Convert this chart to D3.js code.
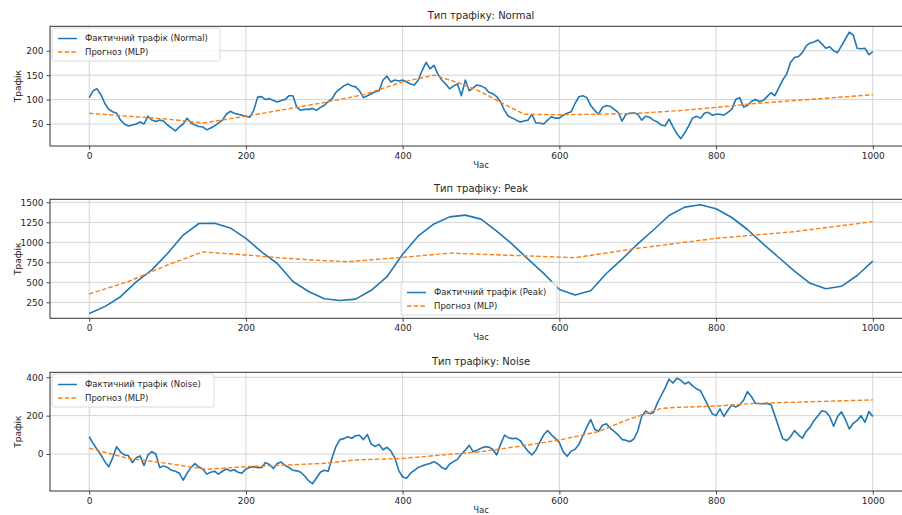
<!DOCTYPE html>
<html><head><meta charset="utf-8">
<script src="https://cdn.jsdelivr.net/npm/d3@7"></script>
<style>
html,body{margin:0;padding:0;background:#fff;}
svg{display:block;font-family:"DejaVu Sans",sans-serif;}
</style></head>
<body><svg id="chart" width="902" height="515"></svg>
<script>
// ---------- DATA ----------
const xTicks = [0, 200, 400, 600, 800, 1000];
const normalTicks = [50, 100, 150, 200];
const peakTicks = [250, 500, 750, 1000, 1250, 1500];
const noiseTicks = [0, 200, 400];

const titles = ["Тип трафіку: Normal", "Тип трафіку: Peak", "Тип трафіку: Noise"];
const actualLabels = ["Фактичний трафік (Normal)", "Фактичний трафік (Peak)", "Фактичний трафік (Noise)"];
const forecastLabel = "Прогноз (MLP)";
const xLabel = "Час";
const yLabel = "Трафік";

// Normal: actual sampled every 5 time units (0..1000)
const normalStep = 5;
const normalActual = [104,118,122,110,92,80,75,72,58,50,46,48,50,54,50,66,58,55,58,56,
48,42,36,44,50,62,52,48,45,44,38,42,46,52,58,70,76,72,70,68,
66,64,78,105,106,100,102,98,95,98,100,108,108,84,78,80,80,82,78,84,
88,96,102,115,122,128,132,128,126,118,104,108,112,116,118,140,148,136,140,138,
140,136,132,130,140,160,176,163,170,152,140,132,122,128,132,108,140,118,124,130,
128,124,115,112,106,95,78,66,62,58,54,56,58,70,52,52,50,58,65,62,
62,68,72,75,92,106,108,104,88,78,70,84,88,86,80,74,56,70,72,73,
70,58,66,64,58,54,48,46,60,44,30,20,32,46,62,66,62,72,74,68,
70,70,68,74,80,100,104,85,88,96,100,96,98,106,114,108,124,140,152,176,
186,188,196,210,216,218,222,214,205,208,200,196,210,224,238,232,205,204,205,192,198];
const normalForecastX = [0,50,100,145,200,250,300,350,400,440,470,500,530,555,600,650,700,750,800,850,900,950,1000];
const normalForecast  = [72,66,60,52,66,80,94,110,136,150,135,116,90,70,69,70,72,77,84,92,98,104,110];

// Peak: actual sampled every 20 time units
const peakStep = 20;
const peakActual = [110,196,320,505,655,860,1090,1235,1238,1180,1050,880,735,510,385,295,272,290,400,570,
850,1080,1230,1318,1340,1290,1140,975,790,612,410,340,395,610,790,980,1154,1335,1440,1470,
1420,1310,1160,980,810,640,487,420,450,585,765];
const peakForecastX = [0,50,100,145,200,250,300,330,400,460,500,560,620,700,800,900,1000];
const peakForecast  = [354,510,717,880,842,800,771,758,812,865,850,830,808,925,1050,1133,1258];

// Noise: actual sampled every 5 time units
const noiseStep = 5;
const noiseActual = [90,55,25,-5,-40,-66,-20,38,10,-5,-8,-45,-20,-10,-60,-5,12,0,-70,-62,
-70,-85,-90,-100,-136,-100,-70,-50,-68,-78,-105,-95,-90,-105,-90,-78,-88,-82,-95,-100,
-78,-70,-66,-72,-70,-45,-55,-75,-50,-42,-60,-70,-85,-88,-95,-115,-140,-155,-125,-95,
-85,-90,-20,40,75,80,90,82,95,98,75,102,50,40,50,22,35,15,-20,-85,
-120,-127,-100,-85,-70,-62,-55,-50,-40,-52,-70,-80,-52,-40,-28,0,20,45,12,20,
30,38,36,25,-5,50,98,85,80,82,70,40,15,-5,20,60,100,122,100,80,
60,10,-12,15,25,50,95,140,180,130,118,150,158,135,118,100,75,72,64,78,
120,195,225,210,215,265,305,345,390,370,395,385,365,375,355,340,330,290,250,210,
200,235,196,228,255,245,255,280,325,300,265,262,262,264,258,200,140,80,70,90,
122,100,82,118,140,175,200,225,220,195,145,195,220,180,130,160,175,200,165,222,195];
const noiseForecastX = [0,50,100,150,200,300,340,400,500,560,600,650,686,730,750,800,850,900,1000];
const noiseForecast  = [30,-23,-49,-80,-66,-49,-31,-23,12,47,73,117,177,238,243,250,264,270,282];

// ---------- LAYOUT ----------
const svg = d3.select("#chart");
const xRange = [50, 912];
const blue = "#1f77b4", orange = "#ff7f0e";
const panels = [
  {top: 26.3, bottom: 146, domain: [5, 250], ticks: normalTicks,
   actual: normalActual.map((v,i)=>[i*normalStep, v]),
   fc: normalForecastX.map((x,i)=>[x, normalForecast[i]]),
   legend: {x: 52, y: 28, w: 168}},
  {top: 199.3, bottom: 318.3, domain: [50, 1537.5], ticks: peakTicks,
   actual: peakActual.map((v,i)=>[i*peakStep, v]),
   fc: peakForecastX.map((x,i)=>[x, peakForecast[i]]),
   legend: {x: 401, y: 282, w: 156}},
  {top: 372.3, bottom: 491, domain: [-193, 426], ticks: noiseTicks,
   actual: noiseActual.map((v,i)=>[i*noiseStep, v]),
   fc: noiseForecastX.map((x,i)=>[x, noiseForecast[i]]),
   legend: {x: 52, y: 374, w: 162}}
];

const x = d3.scaleLinear().domain([-50, 1050]).range(xRange);
const textColor = "#262626";

panels.forEach((p, pi) => {
  const y = d3.scaleLinear().domain(p.domain).range([p.bottom, p.top]);
  const g = svg.append("g");

  // grid
  g.append("g").selectAll("line").data(xTicks).join("line")
    .attr("x1", d=>x(d)).attr("x2", d=>x(d)).attr("y1", p.top).attr("y2", p.bottom)
    .attr("stroke", "#d4d4d4").attr("stroke-width", 1);
  g.append("g").selectAll("line").data(p.ticks).join("line")
    .attr("x1", xRange[0]).attr("x2", xRange[1]).attr("y1", d=>y(d)).attr("y2", d=>y(d))
    .attr("stroke", "#d4d4d4").attr("stroke-width", 1);

  // clip
  const clipId = "clip" + pi;
  svg.append("clipPath").attr("id", clipId).append("rect")
    .attr("x", xRange[0]).attr("y", p.top).attr("width", xRange[1]-xRange[0]).attr("height", p.bottom-p.top);

  const line = d3.line().x(d=>x(d[0])).y(d=>y(d[1]));
  const lg = g.append("g").attr("clip-path", `url(#${clipId})`);
  lg.append("path").datum(p.actual).attr("d", line)
    .attr("fill", "none").attr("stroke", blue).attr("stroke-width", 1.6).attr("stroke-linejoin", "round");
  lg.append("path").datum(p.fc).attr("d", line)
    .attr("fill", "none").attr("stroke", orange).attr("stroke-width", 1.4).attr("stroke-dasharray", "4.5,2.2");

  // axes
  const xAxis = d3.axisBottom(x).tickValues(xTicks).tickSize(3.5).tickPadding(3).tickFormat(d3.format("d"));
  const yAxis = d3.axisLeft(y).tickValues(p.ticks).tickSize(3.5).tickPadding(3).tickFormat(d3.format("d"));
  const gx = g.append("g").attr("transform", `translate(0,${p.bottom})`).call(xAxis);
  const gy = g.append("g").attr("transform", `translate(${xRange[0]},0)`).call(yAxis);
  [gx, gy].forEach(a => {
    a.select(".domain").remove();
    a.selectAll("line").attr("stroke", "#333").attr("stroke-width", 0.9);
    a.selectAll("text").attr("fill", textColor).style("font-size", "9px").style("font-family", "DejaVu Sans");
  });

  // frame
  g.append("rect").attr("x", xRange[0]).attr("y", p.top)
    .attr("width", xRange[1]-xRange[0]).attr("height", p.bottom-p.top)
    .attr("fill", "none").attr("stroke", "#333").attr("stroke-width", 1);

  // title
  g.append("text").attr("x", (xRange[0]+xRange[1])/2).attr("y", p.top - 7)
    .attr("text-anchor", "middle").attr("fill", textColor).style("font-size", "10px").text(titles[pi]);
  // x label
  g.append("text").attr("x", (xRange[0]+xRange[1])/2).attr("y", p.bottom + 22)
    .attr("text-anchor", "middle").attr("fill", textColor).style("font-size", "8.5px").text(xLabel);
  // y label
  g.append("text").attr("transform", `translate(21,${(p.top+p.bottom)/2}) rotate(-90)`)
    .attr("text-anchor", "middle").attr("fill", textColor).style("font-size", "9px").text(yLabel);

  // legend
  const L = p.legend;
  const lgd = g.append("g").attr("transform", `translate(${L.x},${L.y})`);
  lgd.append("rect").attr("width", L.w).attr("height", 33).attr("rx", 2)
    .attr("fill", "#fff").attr("fill-opacity", 0.8).attr("stroke", "#d0d0d0").attr("stroke-width", 0.8);
  const items = [{label: actualLabels[pi], color: blue, dash: null},
                 {label: forecastLabel, color: orange, dash: "4.5,2.2"}];
  items.forEach((it, k) => {
    const yy = 10.5 + k*13.5;
    lgd.append("line").attr("x1", 6).attr("x2", 25).attr("y1", yy).attr("y2", yy)
      .attr("stroke", it.color).attr("stroke-width", 1.5).attr("stroke-dasharray", it.dash);
    lgd.append("text").attr("x", 33).attr("y", yy).attr("dy", "0.35em")
      .attr("fill", textColor).style("font-size", "8.5px").text(it.label);
  });
});
</script></body></html>
